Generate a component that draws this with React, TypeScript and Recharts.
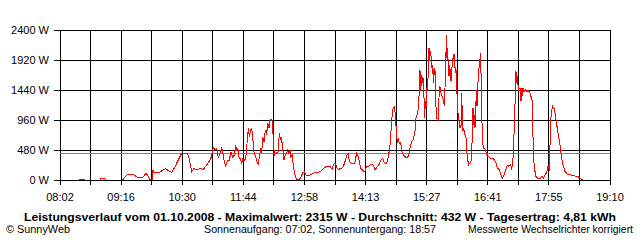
import React from 'react';
import { LineChart, Line, XAxis, YAxis, CartesianGrid, ReferenceLine } from 'recharts';

type Pt = [number, number | null];

// [minutes since midnight, watts]
const morning: Pt[] = [
  [505.1, 0], [506.3, 15], [511.1, 15], [512.4, 0], [520, null],
  [530.6, 0], [531.8, 25], [534.2, 30], [536.7, 15], [537.9, 0], [545, null],
  [557.3, 0], [558.5, 5], [560.9, 50], [564.6, 95], [570.7, 95], [574.3, 55], [577.9, 30], [582.8, 45],
  [586.5, 110], [588.9, 65], [591.3, 5], [593.7, 0], [595.0, 160], [596.2, 120], [598.6, 110], [603.5, 130],
  [607.1, 160], [610.7, 180], [615.6, 130], [618.0, 125], [621.7, 213], [623.7, 267], [625.7, 320],
  [627.7, 373], [629.8, 427], [633.8, 416], [636.6, 427], [639.0, 347], [641.9, 133], [644.7, 187],
  [648.0, 160], [650.0, 170], [652.0, 187], [656.0, 170], [660.2, 240], [663.3, 300], [666.2, 384],
  [668.2, 523], [670.3, 480], [672.3, 507], [674.3, 347], [676.3, 427], [678.4, 507], [679.6, 453],
  [681.6, 293], [683.3, 224], [685.7, 320], [687.6, 320], [689.7, 453], [691.8, 373], [693.7, 400],
  [695.4, 560], [696.6, 480], [697.8, 507], [699.4, 373],
];

const midday: Pt[] = [
  [700.6, 347], [702.7, 267], [703.9, 347], [704.6, 310], [707.5, 330], [709.5, 640], [710.7, 827],
  [711.9, 693], [713.6, 800], [714.8, 827], [716.0, 693], [717.6, 453], [719.7, 373], [720.9, 293],
  [722.8, 256], [724.9, 427], [726.1, 507], [727.0, 427], [728.2, 693], [729.8, 613], [731.0, 747],
  [732.2, 800], [733.0, 720], [734.3, 907], [735.8, 827], [737.1, 960], [738.3, 970], [739.8, 933],
  [741.1, 640], [742.3, 400], [744.3, 427], [747.1, 453], [748.3, 747], [750.0, 640], [750.8, 693],
  [752.5, 507], [754.1, 320], [755.6, 400], [757.3, 427], [758.6, 480], [759.8, 427], [761.4, 480],
  [762.2, 373], [764.1, 400], [765.4, 213], [767.4, 80], [769.5, 10], [772.6, 10], [774.7, 43],
  [776.8, 117], [778.7, 133], [780.8, 80], [785.6, 80], [787.7, 96], [791.7, 117], [794.5, 117],
  [797.8, 133], [801.0, 170], [803.9, 203], [806.6, 224], [809.1, 224], [810.8, 203], [812.7, 170],
  [813.9, 240], [816.0, 277], [818.0, 203], [820.0, 170], [824.1, 187], [826.1, 213], [828.1, 293],
  [830.2, 400], [832.2, 416], [833.4, 293], [836.3, 267], [839.1, 256], [840.3, 293], [842.3, 427],
  [844.3, 373], [845.5, 293], [847.2, 187], [850.4, 144], [852.4, 144], [854.5, 213], [856.4, 213],
  [859.4, 256], [861.8, 256], [864.6, 160], [866.6, 203], [868.6, 224], [871.5, 309], [874.0, 347],
  [875.5, 293], [878.0, 256], [879.5, 293],
];

const afternoon: Pt[] = [
  [881.2, 400], [882.8, 560], [884.4, 853], [885.6, 1072], [886.8, 1152], [888.0, 1173], [888.9, 1093],
  [889.7, 960], [890.9, 693], [892.1, 587], [892.9, 667], [894.1, 587], [895.8, 600], [897.0, 453],
  [899.0, 405], [901.0, 379], [903.1, 352], [905.0, 379], [907.1, 512], [909.1, 619], [911.1, 645],
  [913.2, 779], [914.4, 992], [915.9, 1045], [917.2, 1152], [918.4, 1419], [919.2, 1765], [920.1, 1419],
  [921.3, 1685], [922.5, 1552], [923.2, 1632], [924.1, 1312], [924.9, 992], [925.7, 1259], [926.5, 1152],
  [927.4, 1472], [928.6, 1445], [929.3, 1792], [930.2, 2112], [931.0, 1899], [931.8, 2059], [933.0, 1952],
  [933.8, 1792], [934.7, 1845], [935.4, 1552], [936.3, 1792], [937.1, 1685], [937.8, 1739], [938.7, 1152],
  [939.6, 992], [940.3, 992], [941.5, 965], [942.7, 1472], [943.5, 1499], [944.8, 1392], [945.6, 1365],
  [946.8, 1312], [947.6, 1285], [948.8, 1179], [949.6, 1472], [950.5, 1792], [951.2, 2315], [952.1, 1925],
  [952.9, 2112], [953.7, 1739], [954.5, 1659], [955.4, 1845], [956.1, 1685], [957.0, 1579], [957.8, 1792],
  [958.6, 1845], [959.8, 2005], [961.0, 2005], [961.8, 1792], [962.7, 1712], [963.4, 1765], [964.2, 1365],
  [965.1, 1152], [965.8, 992], [966.6, 939], [967.5, 832], [968.2, 885], [969.0, 832], [969.9, 1392],
  [970.6, 1045], [971.5, 779], [972.3, 832], [973.0, 779], [973.9, 725], [975.1, 672], [976.0, 512],
  [976.7, 352], [977.5, 299], [978.4, 245], [980.0, 272], [981.2, 299], [982.0, 405], [982.8, 779],
  [983.6, 1152], [984.5, 885], [985.2, 1045], [986.0, 832], [986.9, 1045], [987.6, 1445], [988.5, 1179],
  [989.3, 1472], [990.0, 1632], [990.9, 1792], [991.8, 1845], [992.5, 2032], [993.3, 1739], [994.2, 1152],
  [994.9, 672], [996.1, 512], [997.8, 512], [999.0, 459], [1000.3, 405], [1002.2, 379], [1004.2, 352],
];

const evening: Pt[] = [
  [1007.5, 352], [1009.5, 325], [1011.5, 272], [1013.1, 192], [1015.5, 165], [1017.2, 85], [1019.2, 32],
  [1021.3, 85], [1023.3, 165], [1025.3, 235], [1027.3, 219], [1029.4, 245], [1030.6, 165], [1031.8, 272],
  [1032.6, 432], [1033.4, 725], [1034.3, 1072], [1035.0, 1365], [1035.8, 1739], [1036.7, 1552],
  [1037.4, 1659], [1038.3, 1525], [1039.1, 1445], [1040.7, 1472], [1041.9, 1259], [1043.1, 1472],
  [1043.9, 1339], [1044.7, 1472], [1045.9, 1419], [1047.1, 1445], [1048.8, 1419], [1050.8, 1429],
  [1052.8, 1392], [1054.0, 1339], [1055.3, 1285], [1056.1, 992], [1056.8, 459], [1058.1, 192],
  [1060.1, 59], [1061.7, 32], [1065.0, 21], [1067.0, 59], [1069.0, 32], [1071.1, 85], [1073.1, 112],
  [1075.1, 245], [1076.3, 140], [1077.1, 539], [1078.0, 912], [1078.7, 1099], [1080.4, 1179],
  [1082.0, 1152], [1083.6, 1045], [1085.3, 885], [1087.2, 725], [1089.3, 565], [1091.3, 352],
  [1093.3, 219], [1095.3, 139], [1098.1, 96], [1101.4, 85], [1105.4, 69], [1109.5, 59], [1112.7, 43],
  [1115.6, 5], [1116.8, 0],
];

const yTicks = [0, 480, 960, 1440, 1920, 2400];
const timeLabels = ['08:02', '09:16', '10:30', '11:44', '12:58', '14:13', '15:27', '16:41', '17:55', '19:10'];
const dayStart = 482;
const dayEnd = 1150;
const average = 432;

const step = (dayEnd - dayStart) / 18;
const xTicks = Array.from({ length: 19 }, (_, i) => dayStart + i * step);
const data = [...morning, ...midday, ...afternoon, ...evening].map(([t, w]) => ({ t, w }));

const fmtX = (v: number) => {
  const i = Math.round((v - dayStart) / step);
  return i % 2 === 0 ? timeLabels[i / 2] : '';
};

const font = '"Liberation Sans", Arial, sans-serif';

export default function App() {
  return (
    <div style={{ position: 'absolute', left: 0, top: 0, width: 640, height: 240, background: '#fff' }}>
      <style>{`
        .recharts-cartesian-grid line, .recharts-cartesian-axis-tick-line, .recharts-reference-line line { shape-rendering: crispEdges; }
        .recharts-line-curve { shape-rendering: crispEdges; }
      `}</style>
      <LineChart width={640} height={240} data={data} margin={{ top: 30, right: 30, left: 0, bottom: 40 }}>
        <CartesianGrid stroke="#000" strokeWidth={1} strokeOpacity={1} />
        <XAxis
          dataKey="t"
          type="number"
          domain={[dayStart, dayEnd]}
          ticks={xTicks}
          interval={0}
          tickFormatter={fmtX}
          height={20}
          axisLine={false}
          tickLine={{ stroke: '#000' }}
          tickSize={5}
          tickMargin={8}
          tick={{ fill: '#000', fontSize: 11, fontFamily: font }}
          allowDataOverflow
        />
        <YAxis
          type="number"
          domain={[0, 2400]}
          ticks={yTicks}
          interval={0}
          width={60}
          axisLine={false}
          tickLine={{ stroke: '#000' }}
          tickSize={6}
          tickMargin={5}
          tickFormatter={(v: number) => `${v} W`}
          tick={{ fill: '#000', fontSize: 11, fontFamily: font }}
        />
        <ReferenceLine y={average} stroke="#808080" strokeWidth={1} ifOverflow="visible" />
        <Line
          type="linear"
          dataKey="w"
          stroke="#ff0000"
          strokeWidth={1}
          dot={false}
          activeDot={false}
          connectNulls={false}
          isAnimationActive={false}
        />
      </LineChart>
      <svg width={640} height={40} style={{ position: 'absolute', left: 0, top: 200 }}>
        <text x={320} y={20.5} textAnchor="middle" fontWeight="bold" fontSize={11} fontFamily={font}
          textLength={592} lengthAdjust="spacingAndGlyphs" fill="#000">
          Leistungsverlauf vom 01.10.2008 - Maximalwert: 2315 W - Durchschnitt: 432 W - Tagesertrag: 4,81 kWh
        </text>
        <text x={6} y={33} fontSize={11} fontFamily={font} textLength={64} lengthAdjust="spacingAndGlyphs" fill="#000">
          © SunnyWeb
        </text>
        <text x={204} y={33} fontSize={11} fontFamily={font} textLength={232} lengthAdjust="spacingAndGlyphs" fill="#000">
          Sonnenaufgang: 07:02, Sonnenuntergang: 18:57
        </text>
        <text x={468} y={33} fontSize={10} fontFamily={font} textLength={165} lengthAdjust="spacingAndGlyphs" fill="#000">
          Messwerte Wechselrichter korrigiert
        </text>
      </svg>
    </div>
  );
}
